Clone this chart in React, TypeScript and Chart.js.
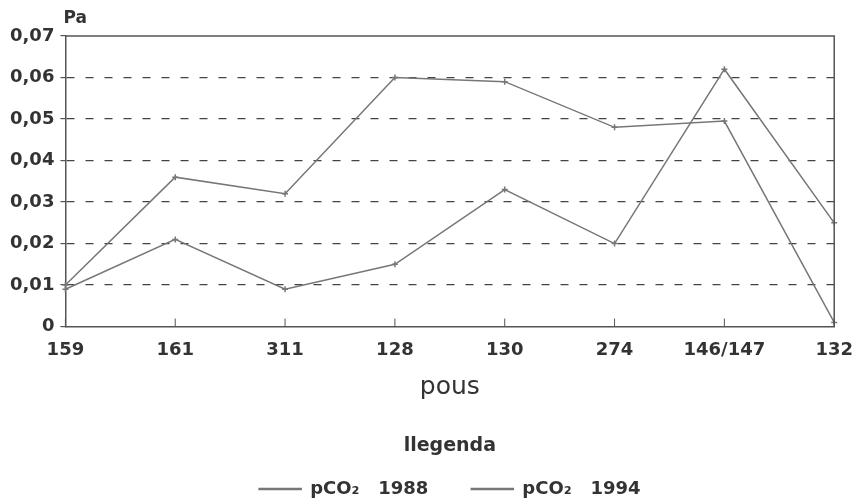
import React, { useEffect, useRef } from 'react';
import { Chart, registerables } from 'chart.js';

Chart.register(...registerables);

const categories = ['159', '161', '311', '128', '130', '274', '146/147', '132'];
const pco2_1988 = [0.010, 0.036, 0.032, 0.060, 0.059, 0.048, 0.0495, 0.001];
const pco2_1994 = [0.009, 0.021, 0.009, 0.015, 0.033, 0.020, 0.062, 0.025];
const seriesLabels = ['pCO\u2082   1988', 'pCO\u2082   1994'];
const yUnit = 'Pa';
const xTitle = 'pous';
const legendTitle = 'llegenda';

const FONT = "'DejaVu Sans', sans-serif";
const TEXT = '#333';
const LINE = '#777';
const GRID = '#444';

const framePlugin = {
  id: 'frame',
  afterDraw(chart: any) {
    const { ctx, chartArea, scales } = chart;
    ctx.save();
    ctx.strokeStyle = '#555';
    ctx.lineWidth = 1.5;
    ctx.beginPath();
    ctx.moveTo(chartArea.left, chartArea.top);
    ctx.lineTo(chartArea.right, chartArea.top);
    ctx.lineTo(chartArea.right, chartArea.bottom);
    ctx.stroke();
    const xs = scales.x;
    ctx.lineWidth = 1;
    for (let i = 0; i < xs.ticks.length; i++) {
      const px = xs.getPixelForTick(i);
      ctx.beginPath();
      ctx.moveTo(px, chartArea.bottom);
      ctx.lineTo(px, chartArea.bottom - 8);
      ctx.stroke();
    }
    ctx.fillStyle = TEXT;
    ctx.font = `bold 17px ${FONT}`;
    ctx.textAlign = 'left';
    ctx.textBaseline = 'alphabetic';
    ctx.fillText(yUnit, chartArea.left - 2, chartArea.top - 13);
    ctx.restore();
  },
};

export default function App() {
  const ref = useRef<HTMLCanvasElement>(null);
  useEffect(() => {
    document.body.style.margin = '0';
    const ds = (label: string, data: number[]) => ({
      label,
      data,
      borderColor: LINE,
      backgroundColor: LINE,
      borderWidth: 1.5,
      pointStyle: 'cross',
      pointRadius: 3,
      pointBorderWidth: 1.5,
      tension: 0,
    });
    const chart = new Chart(ref.current!, {
      type: 'line',
      data: {
        labels: categories,
        datasets: [ds(seriesLabels[0], pco2_1988), ds(seriesLabels[1], pco2_1994)],
      },
      options: {
        animation: false,
        responsive: false,
        maintainAspectRatio: false,
        layout: { padding: { top: 36, left: 4, right: 3, bottom: -4 } },
        scales: {
          x: {
            offset: false,
            grid: { display: false, drawTicks: true, tickLength: 13 },
            border: { display: true, color: '#555', width: 1.5 },
            ticks: {
              color: TEXT,
              font: { family: FONT, size: 18, weight: 'bold' },
              padding: 0,
              maxRotation: 0,
              autoSkip: false,
            },
            title: {
              display: true,
              text: xTitle,
              color: TEXT,
              font: { family: FONT, size: 25 },
              padding: { top: 11, bottom: 0 },
            },
          },
          y: {
            min: 0,
            max: 0.07,
            ticks: {
              stepSize: 0.01,
              color: TEXT,
              font: { family: FONT, size: 18, weight: 'bold' },
              padding: 6,
              callback: (v: any) => (Number(v) === 0 ? '0' : Number(v).toFixed(2).replace('.', ',')),
            },
            grid: {
              color: (c: any) => {
                const v = c.tick ? c.tick.value : 0;
                return v <= 0.0001 || v >= 0.0699 ? 'rgba(0,0,0,0)' : GRID;
              },
              lineWidth: 1.2,
              tickLength: 5,
              tickColor: '#555',
              tickBorderDash: [],
            },
            border: { display: true, color: '#555', width: 1.5, dash: [8, 11] },
          },
        },
        plugins: {
          tooltip: { enabled: false },
          legend: {
            position: 'bottom',
            fullSize: false,
            title: {
              display: true,
              text: legendTitle,
              color: TEXT,
              font: { family: FONT, size: 19, weight: 'bold' },
              padding: { top: 34, bottom: -22 },
            },
            labels: {
              color: TEXT,
              font: { family: FONT, size: 18, weight: 'bold' },
              boxWidth: 42,
              boxHeight: 1,
              padding: 43,
            },
          },
        },
      },
      plugins: [framePlugin],
    });
    return () => chart.destroy();
  }, []);
  return (
    <div style={{ width: 853, height: 504 }}>
      <canvas ref={ref} width={853} height={504} style={{ width: 853, height: 504 }} />
    </div>
  );
}
